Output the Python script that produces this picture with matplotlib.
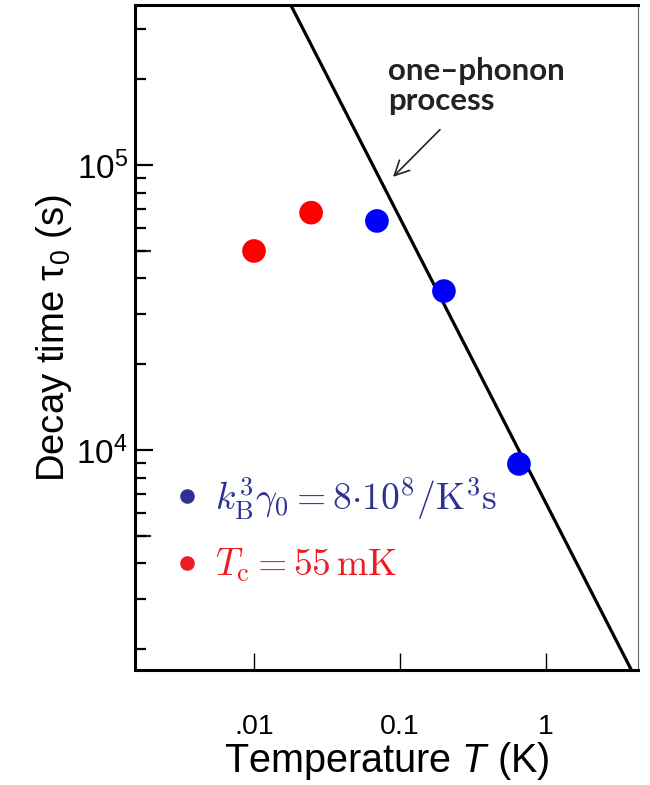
import matplotlib
matplotlib.use('Agg')
import matplotlib.pyplot as plt
from matplotlib.lines import Line2D
from matplotlib.ticker import FixedLocator, NullFormatter, NullLocator
import numpy as np

plt.rcParams['font.family'] = ['Liberation Sans', 'DejaVu Sans']
plt.rcParams['mathtext.fontset'] = 'custom'
plt.rcParams['mathtext.rm'] = 'Liberation Sans'
plt.rcParams['mathtext.it'] = 'Liberation Sans:italic'

# data
T_red = [0.010, 0.0246]
tau_red = [4.99e4, 6.8e4]
T_blue = [0.0695, 0.20, 0.653]
tau_blue = [6.36e4, 3.61e4, 8.93e3]

# one-phonon line (tau ~ 1/T)
T_fit = [0.01, 10.0]
tau_fit = [6.5e5, 650.0]

xticks = [0.01, 0.1, 1]
xticklabels = ['.01', '0.1', '1']
yticks_major = [1e4, 1e5]
yticklabels = [r'$\mathrm{10^4}$', r'$\mathrm{10^5}$']
yticks_mid = [5e3, 5e4]
yticks_minor = [2e3, 3e3, 4e3, 6e3, 7e3, 8e3, 9e3,
                2e4, 3e4, 4e4, 6e4, 7e4, 8e4, 9e4, 2e5, 3e5]

legend_labels = [r'$k_{\rm B}^3\gamma_0 = 8{\cdot}10^8/{\rm K}^3{\rm s}$',
                 r'$T_{\rm c} = 55\,{\rm mK}$']
legend_colors = ['#2E3192', '#ED1C24']

fig = plt.figure(figsize=(6.5, 7.85), dpi=100)
ax = fig.add_axes([135/650, 115/785, 503/650, 665/785])
ax.set_xscale('log')
ax.set_yscale('log')
ax.set_xlim(0.00153, 4.27)
ax.set_ylim(1690, 3.64e5)

ax.plot(T_fit, tau_fit, color='black', lw=2.3, zorder=2)
ax.scatter(T_red, tau_red, s=290, color='#FF0000', edgecolors='none', zorder=3)
ax.scatter(T_blue, tau_blue, s=290, color='#0000FF', edgecolors='none', zorder=3)

# ticks
ax.xaxis.set_major_locator(FixedLocator(xticks))
ax.set_xticklabels(xticklabels)
ax.xaxis.set_minor_locator(NullLocator())
ax.tick_params(axis='x', which='major', direction='in', length=12, width=1,
               labelsize=20.5, pad=32)
ax.yaxis.set_major_locator(FixedLocator(yticks_major))
ax.set_yticklabels(yticklabels)
ax.yaxis.set_minor_locator(FixedLocator(yticks_minor + yticks_mid))
ax.yaxis.set_minor_formatter(NullFormatter())
ax.tick_params(axis='y', which='major', direction='in', length=13, width=1.6,
               labelsize=24, pad=5)
ax.tick_params(axis='y', which='minor', direction='in', length=8, width=1.6)
# longer ticks at 5x
for yv in yticks_mid:
    ax.plot([0.00153, 0.00153 * 10**(16/146)], [yv, yv], color='#222222',
            lw=1.6, zorder=1, clip_on=False, solid_capstyle='butt')

for s in ['left', 'bottom', 'top']:
    ax.spines[s].set_linewidth(2.2)
ax.spines['right'].set_linewidth(0.8)
ax.spines['right'].set_color('#666666')

ax.set_xlabel(r'Temperature $T$ (K)', fontsize=28.5, labelpad=0)
ax.set_ylabel(r'Decay time $\mathrm{\tau_0}$ (s)', fontsize=27.5, labelpad=2)

# annotation
ax.text(0.0827, 2.4e5, 'one\u2013phonon\nprocess', fontsize=22.5,
        fontweight='bold', family='Lato', ha='left', va='top',
        linespacing=1.12, color='#222222')
ax.annotate('', xy=(0.0896, 9.08e4), xytext=(0.188, 1.33e5),
            arrowprops=dict(arrowstyle='->', lw=1.2, color='#222222',
                            mutation_scale=26, shrinkA=0, shrinkB=0))

# legend
handles = [Line2D([], [], ls='none', marker='o', markersize=10.5,
                  markerfacecolor=c, markeredgecolor='none') for c in legend_colors]
leg = ax.legend(handles, legend_labels, loc='center left',
                bbox_to_anchor=(0.077, 0.211), frameon=False, fontsize=27,
                handlelength=0.7, handletextpad=0.4, labelspacing=0.68,
                borderpad=0, borderaxespad=0, labelcolor=legend_colors)
for t in leg.get_texts():
    t.set_math_fontfamily('cm')

fig.savefig('out.png', dpi=100)
